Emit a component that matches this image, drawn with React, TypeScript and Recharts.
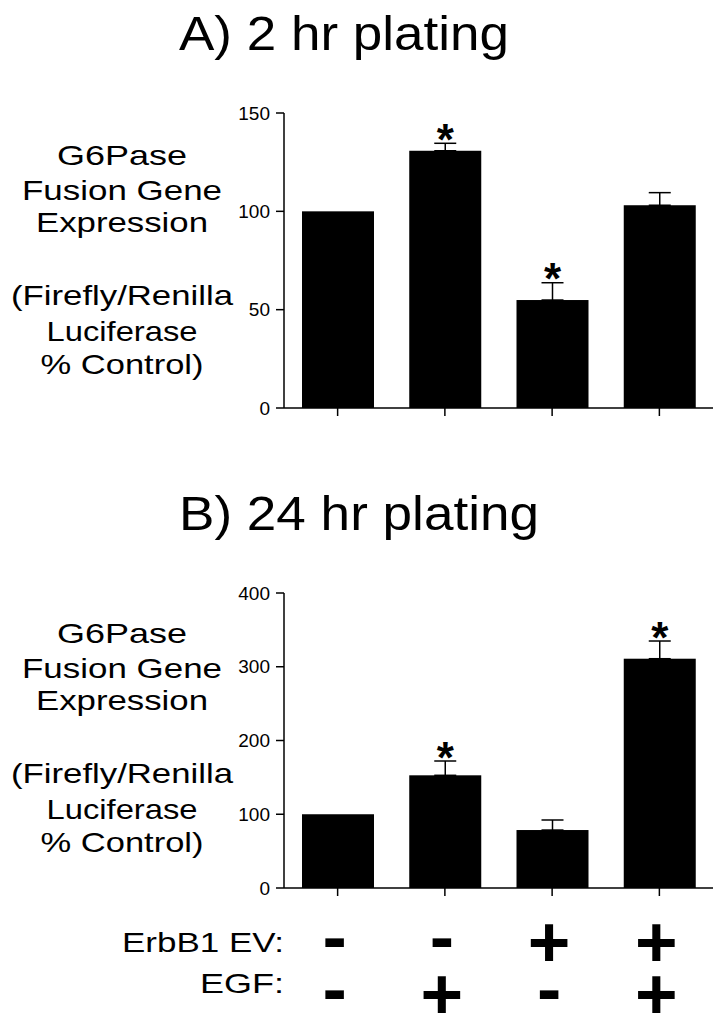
import React from 'react';
import { BarChart, Bar, XAxis, YAxis, ErrorBar } from 'recharts';

const FONT = '"Liberation Sans", Arial, Helvetica, sans-serif';

const categories = ['Control', 'EGF', 'ErbB1 EV', 'ErbB1 EV + EGF'];
const erbb1Signs = ['-', '-', '+', '+'];
const egfSigns = ['-', '+', '-', '+'];

const meanA = [100, 130.8, 54.9, 103.1];
const errA = [0, 3.8, 8.8, 6.4];
const sigA = [false, true, true, false];
const ticksA = [0, 50, 100, 150];

const meanB = [100, 152.8, 78.6, 310.9];
const errB = [0, 19.4, 13.6, 24];
const sigB = [false, true, false, true];
const ticksB = [0, 100, 200, 300, 400];

const titleA = 'A) 2 hr plating';
const titleB = 'B) 24 hr plating';
const yLabelLines = ['G6Pase', 'Fusion Gene', 'Expression', '(Firefly/Renilla', 'Luciferase', '% Control)'];
const rowLabels = ['ErbB1 EV:', 'EGF:'];

const buildRows = (means: number[], errs: number[], sig: boolean[]) =>
  categories.map((name, i) => ({
    name,
    value: means[i],
    err: errs[i] > 0 ? [0, errs[i]] : null,
    sig: sig[i],
  }));

const dataA = buildRows(meanA, errA, sigA);
const dataB = buildRows(meanB, errB, sigB);

// layout constants
const PANEL_OFFSET = 480;
const LINE_BASELINES = [165, 200, 232, 305, 341, 374];
const LINE_WIDTHS = [130, 200, 172, 222, 151, 163];
const LABEL_CX = 122;

const BarShape = (props: any) => {
  const { x, y, width, height, payload } = props;
  const ppu = payload.value ? height / payload.value : 0;
  const upper = payload.err ? payload.err[1] : 0;
  const errTop = y - upper * ppu;
  return (
    <g>
      <rect x={x} y={y} width={width} height={height} fill="#000" />
      {payload.sig && (
        <text
          x={x + width / 2}
          y={errTop - 12.5 + 24}
          textAnchor="middle"
          fontSize={44}
          fontWeight="bold"
          fontFamily={FONT}
          fill="#000"
        >
          *
        </text>
      )}
    </g>
  );
};

const EmptyTick = () => <g />;

const SignTick = (props: any) => {
  const { x, y, payload } = props;
  const i = categories.indexOf(payload.value);
  const cx = x - 3;
  const sign = (s: string, cy: number, key: string) => (
    <text
      key={key}
      x={cx}
      y={cy + (s === '+' ? 25 : 19)}
      textAnchor="middle"
      fontSize={73}
      fontWeight="bold"
      fontFamily={FONT}
      fill="#000"
    >
      {s}
    </text>
  );
  return (
    <g>
      {sign(erbb1Signs[i], y + 46, 'r1')}
      {sign(egfSigns[i], y + 98, 'r2')}
    </g>
  );
};

const axisLine = { stroke: '#000', strokeWidth: 1.5 };
const tickStyle = { fill: '#000', fontSize: 19, fontFamily: FONT };

function Panel({ data, ticks, max, top, withSigns }: any) {
  const xAxisHeight = withSigns ? 138 : 10;
  const height = 113 + 295 + xAxisHeight + (withSigns ? 0 : 12);
  return (
    <div style={{ position: 'absolute', left: 0, top, width: 726, height }}>
      <BarChart
        width={726}
        height={height}
        data={data}
        margin={{ top: 113, right: 13, left: 224, bottom: withSigns ? 0 : 12 }}
        barSize={72}
      >
        <XAxis
          dataKey="name"
          axisLine={axisLine}
          tickLine={axisLine}
          tickSize={8}
          tickMargin={0}
          height={xAxisHeight}
          interval={0}
          tick={withSigns ? <SignTick /> : <EmptyTick />}
        />
        <YAxis
          domain={[0, max]}
          ticks={ticks}
          width={60}
          axisLine={axisLine}
          tickLine={axisLine}
          tickSize={8}
          tickMargin={6}
          tick={tickStyle}
          interval={0}
        />
        <Bar dataKey="value" fill="#000" isAnimationActive={false} shape={<BarShape />}>
          <ErrorBar dataKey="err" width={11} strokeWidth={1.5} stroke="#000" direction="y" />
        </Bar>
      </BarChart>
    </div>
  );
}

function Annotations() {
  const panels = [
    { title: titleA, titleLen: 330, off: 0 },
    { title: titleB, titleLen: 360, off: PANEL_OFFSET },
  ];
  return (
    <svg
      width={726}
      height={1026}
      style={{ position: 'absolute', left: 0, top: 0, pointerEvents: 'none' }}
    >
      {panels.map((p, pi) => (
        <g key={pi} fontFamily={FONT} fill="#000">
          <text
            x={179}
            y={50 + p.off}
            fontSize={49}
            textLength={p.titleLen}
            lengthAdjust="spacingAndGlyphs"
          >
            {p.title}
          </text>
          {yLabelLines.map((line, li) => (
            <text
              key={li}
              x={LABEL_CX}
              y={LINE_BASELINES[li] + p.off - (pi === 1 ? 2 : 0)}
              fontSize={28}
              textAnchor="middle"
              textLength={LINE_WIDTHS[li]}
              lengthAdjust="spacingAndGlyphs"
            >
              {line}
            </text>
          ))}
        </g>
      ))}
      <g fontFamily={FONT} fill="#000" fontSize={28}>
        <text x={284} y={952} textAnchor="end" textLength={162} lengthAdjust="spacingAndGlyphs">
          {rowLabels[0]}
        </text>
        <text x={284} y={993} textAnchor="end" textLength={84} lengthAdjust="spacingAndGlyphs">
          {rowLabels[1]}
        </text>
      </g>
    </svg>
  );
}

export default function App() {
  return (
    <div
      style={{
        position: 'absolute',
        left: 0,
        top: 0,
        width: 726,
        height: 1026,
        background: '#fff',
        fontFamily: FONT,
        overflow: 'hidden',
      }}
    >
      <Panel data={dataA} ticks={ticksA} max={150} top={0} withSigns={false} />
      <Panel data={dataB} ticks={ticksB} max={400} top={PANEL_OFFSET} withSigns={true} />
      <Annotations />
    </div>
  );
}
